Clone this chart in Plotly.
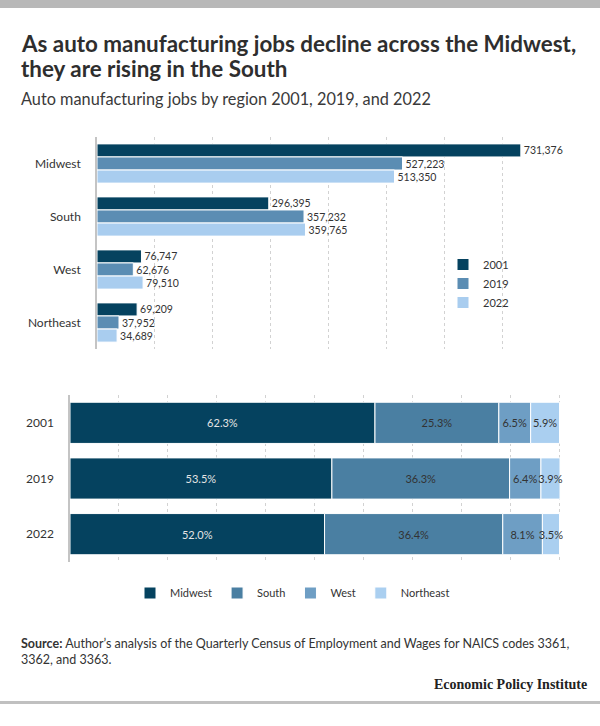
import plotly.graph_objects as go

W, H = 600, 726

# ---- data ----
regions = ["Midwest", "South", "West", "Northeast"]
years = ["2001", "2019", "2022"]
jobs_2001 = [731376, 296395, 76747, 69209]
jobs_2019 = [527223, 357232, 62676, 37952]
jobs_2022 = [513350, 359765, 79510, 34689]

share_years = ["2001", "2019", "2022"]
share_midwest = [62.3, 53.5, 52.0]
share_south = [25.3, 36.3, 36.4]
share_west = [6.5, 6.4, 8.1]
share_northeast = [5.9, 3.9, 3.5]

# ---- styles ----
year_colors = ["#05425f", "#5b8db3", "#a9cdef"]
region_colors = ["#05425f", "#4a7fa2", "#6e9ec4", "#aacff0"]
FONT = "Lato"
TXT = "#333333"


def px_x(x):
    return x / W


def px_y(y):
    return 1 - y / H


fig = go.Figure()

for name, vals, col in zip(years, [jobs_2001, jobs_2019, jobs_2022], year_colors):
    fig.add_trace(go.Bar(
        y=regions, x=vals, orientation="h", name=name,
        marker=dict(color=col, line=dict(color="white", width=1)),
        texttemplate="%{x:,}", textposition="outside", textangle=0,
        textfont=dict(size=10.5, color=TXT, family=FONT),
        cliponaxis=False, xaxis="x", yaxis="y", legend="legend",
        hoverinfo="skip",
    ))

shares = [share_midwest, share_south, share_west, share_northeast]
bases = []
running = [0.0] * len(share_years)
for s in shares:
    bases.append(list(running))
    running = [round(a + b, 3) for a, b in zip(running, s)]

label_colors = ["#e4e4e4", TXT, TXT, TXT]
for name, vals, base, col, lc in zip(regions, shares, bases, region_colors, label_colors):
    fig.add_trace(go.Bar(
        y=share_years, x=vals, base=base, orientation="h", name=name,
        marker=dict(color=col, line=dict(color="white", width=1)),
        texttemplate="%{x:.1f}%", textposition="inside", insidetextanchor="middle",
        textangle=0, textfont=dict(size=11, color=lc, family=FONT),
        cliponaxis=False, offsetgroup="stack", xaxis="x2", yaxis="y2",
        legend="legend2", hoverinfo="skip",
    ))

grid = dict(showgrid=True, gridcolor="#d2d2d2", griddash="dot", gridwidth=1,
            zeroline=False, showticklabels=False, ticks="", fixedrange=True)

fig.update_layout(
    width=W, height=H,
    margin=dict(l=0, r=0, t=0, b=0),
    paper_bgcolor="white", plot_bgcolor="white",
    font=dict(family=FONT, color=TXT, size=12),
    barmode="group", bargap=0.26, bargroupgap=0,
    uniformtext=dict(minsize=10.5, mode="show"),
    showlegend=True,
    xaxis=dict(domain=[px_x(97), px_x(560.6)], range=[0, 800000], dtick=100000,
               anchor="y", **grid),
    yaxis=dict(domain=[px_y(349), px_y(137)], type="category",
               categoryorder="array", categoryarray=regions, autorange="reversed",
               showline=True, linecolor="#c4c4c4", linewidth=1.5, ticks="",
               ticklabelstandoff=12, tickfont=dict(size=12, color=TXT),
               showgrid=False, anchor="x", fixedrange=True),
    xaxis2=dict(domain=[px_x(70), px_x(561)], range=[0, 100.3], dtick=10,
                anchor="y2", **grid),
    yaxis2=dict(domain=[px_y(562), px_y(395)], type="category",
                categoryorder="array", categoryarray=share_years, autorange="reversed",
                showline=True, linecolor="#c4c4c4", linewidth=1.5, ticks="",
                ticklabelstandoff=12, tickfont=dict(size=12, color=TXT),
                showgrid=False, anchor="x2", fixedrange=True),
    legend=dict(x=px_x(443), y=px_y(250), xanchor="left", yanchor="top",
                orientation="v", bgcolor="rgba(0,0,0,0)",
                font=dict(size=11, color=TXT)),
    legend2=dict(x=px_x(130), y=px_y(593), xanchor="left", yanchor="middle",
                 orientation="h", bgcolor="rgba(0,0,0,0)",
                 font=dict(size=11, color=TXT)),
    shapes=[
        dict(type="rect", xref="paper", yref="paper", x0=0, x1=1,
             y0=px_y(8), y1=px_y(0), fillcolor="#b8b8b8", line=dict(width=0),
             layer="below"),
        dict(type="rect", xref="paper", yref="paper", x0=0, x1=1,
             y0=px_y(704), y1=px_y(701), fillcolor="#c0c0c0", line=dict(width=0),
             layer="below"),
    ],
    annotations=[
        dict(xref="paper", yref="paper", x=px_x(19), y=px_y(44), xanchor="left",
             yanchor="middle", align="left", showarrow=False,
             text="<b>As auto manufacturing jobs decline across the Midwest,</b>",
             font=dict(size=22.4, color="#2e2e2e", family=FONT)),
        dict(xref="paper", yref="paper", x=px_x(19), y=px_y(68), xanchor="left",
             yanchor="middle", align="left", showarrow=False,
             text="<b>they are rising in the South</b>",
             font=dict(size=22.4, color="#2e2e2e", family=FONT)),
        dict(xref="paper", yref="paper", x=px_x(19), y=px_y(99), xanchor="left",
             yanchor="middle", align="left", showarrow=False,
             text="Auto manufacturing jobs by region 2001, 2019, and 2022",
             font=dict(size=16.3, color="#3a3a3a", family=FONT)),
        dict(xref="paper", yref="paper", x=px_x(19), y=px_y(651), xanchor="left",
             yanchor="middle", align="left", showarrow=False,
             text="<b>Source:</b> Author’s analysis of the Quarterly Census of Employment and Wages for NAICS codes 3361,<br>3362, and 3363.",
             font=dict(size=12.5, color="#333333", family=FONT)),
        dict(xref="paper", yref="paper", x=px_x(589), y=px_y(684), xanchor="right",
             yanchor="middle", align="right", showarrow=False,
             text="<b>Economic Policy Institute</b>",
             font=dict(size=14, color="#222222", family="Liberation Serif")),
    ],
)

fig.write_html(
    "out.html",
    config={"displayModeBar": False},
    post_script="document.body.style.margin='0';",
)
